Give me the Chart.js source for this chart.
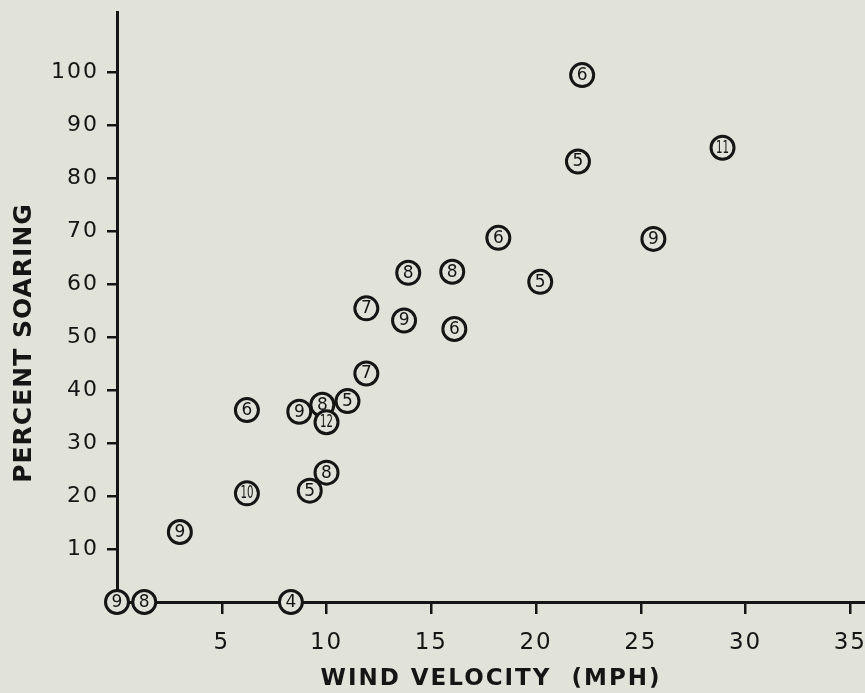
<!DOCTYPE html>
<html>
<head>
<meta charset="utf-8">
<script src="https://cdn.jsdelivr.net/npm/chart.js@4.4.1/dist/chart.umd.min.js"></script>
<style>
html, body { margin: 0; padding: 0; background: #e1e2d9; }
</style>
</head>
<body>
<canvas id="chart" width="865" height="693"></canvas>
<script>
/* Data */
var windSpeed      = [22.2, 22.0, 28.9, 18.2, 25.6, 16.0, 20.2, 16.1, 13.9, 11.9, 13.7, 11.9, 11.0, 9.8, 8.7, 10.0, 6.2, 10.0, 9.2, 6.2, 3.0, 0, 1.3, 8.3];
var percentSoaring = [99.4, 83.1, 85.7, 68.7, 68.5, 62.3, 60.4, 51.5, 62.1, 55.4, 53.1, 43.1, 37.9, 37.2, 35.9, 33.9, 36.2, 24.4, 21.0, 20.5, 13.2, 0, 0, 0];
var sampleSize     = [6, 5, 11, 6, 9, 8, 5, 6, 8, 7, 9, 7, 5, 8, 9, 12, 6, 8, 5, 10, 9, 9, 8, 4];

var xTicks = [5, 10, 15, 20, 25, 30, 35];
var yTicks = [10, 20, 30, 40, 50, 60, 70, 80, 90, 100];

var ink = '#151515';
var paper = '#e1e2d9';
var face = '"DejaVu Sans", sans-serif';

/* spaced-out lettering like the original drafting type */
var spacing = {
	id: 'spacing',
	beforeDraw: function(chart){
		chart.ctx.letterSpacing = '2px';
	}
};

/* numbers inside the circles */
var circleLabels = {
	id: 'circleLabels',
	afterDatasetsDraw: function(chart){
		var ctx = chart.ctx;
		var meta = chart.getDatasetMeta(0);
		ctx.save();
		ctx.letterSpacing = '0px';
		ctx.fillStyle = ink;
		ctx.font = '17px ' + face;
		ctx.textAlign = 'center';
		ctx.textBaseline = 'middle';
		meta.data.forEach(function(pt, i){
			var txt = String(sampleSize[i]);
			var w = ctx.measureText(txt).width;
			var s = Math.min(1, 13 / w);
			ctx.save();
			ctx.translate(pt.x, pt.y + 0.5);
			ctx.scale(s, 1);
			ctx.fillText(txt, 0, 0);
			ctx.restore();
		});
		ctx.restore();
	}
};

/* vertical axis title, sits a bit below centre in the original */
var yTitle = {
	id: 'yTitle',
	afterDraw: function(chart){
		var ctx = chart.ctx;
		var area = chart.chartArea;
		ctx.save();
		ctx.letterSpacing = '1px';
		ctx.fillStyle = ink;
		ctx.font = 'bold 25px ' + face;
		ctx.textAlign = 'center';
		ctx.textBaseline = 'middle';
		ctx.translate(24, (area.top + area.bottom) / 2 + 36);
		ctx.rotate(-Math.PI / 2);
		ctx.fillText('PERCENT SOARING', 0, 0);
		ctx.restore();
	}
};

var chartData = {
	datasets: [{
		label: 'Percent soaring',
		data: windSpeed.map(function(x, i){ return { x: x, y: percentSoaring[i] }; }),
		pointStyle: 'circle',
		pointRadius: 11.5,
		pointHoverRadius: 11.5,
		pointBorderWidth: 3,
		pointBackgroundColor: paper,
		pointBorderColor: ink,
		clip: false
	}]
};

var options = {
	responsive: false,
	animation: false,
	devicePixelRatio: 1,
	layout: {
		autoPadding: false,
		padding: { top: 12, left: 0, right: 0, bottom: 0 }
	},
	plugins: {
		legend: { display: false },
		tooltip: { enabled: false }
	},
	scales: {
		x: {
			type: 'linear',
			min: 0,
			max: 35.7,
			afterBuildTicks: function(scale){ scale.ticks = xTicks.map(function(v){ return { value: v }; }); },
			afterFit: function(scale){
				scale.height = 91;
				scale.paddingLeft = 0;
				scale.paddingRight = 0;
			},
			border: { display: true, color: ink, width: 3 },
			grid: { drawOnChartArea: false, color: ink, lineWidth: 2.5, tickLength: 12 },
			ticks: { color: ink, font: { family: face, size: 23 }, padding: 15, maxRotation: 0 },
			title: {
				display: true,
				text: 'WIND VELOCITY  (MPH)',
				color: ink,
				font: { family: face, size: 23, weight: 'bold' },
				padding: { top: 0, bottom: 0 }
			}
		},
		y: {
			type: 'linear',
			min: 0,
			max: 111.3,
			afterBuildTicks: function(scale){ scale.ticks = yTicks.map(function(v){ return { value: v }; }); },
			afterFit: function(scale){
				scale.width = 117;
				scale.paddingTop = 0;
				scale.paddingBottom = 0;
			},
			border: { display: true, color: ink, width: 3 },
			grid: { drawOnChartArea: false, color: ink, lineWidth: 2.5, tickLength: 10 },
			ticks: { color: ink, font: { family: face, size: 22 }, padding: 8 }
		}
	}
};

var scatter = new Chart(document.getElementById('chart'), {
	type: 'scatter',
	data: chartData,
	options: options,
	plugins: [spacing, circleLabels, yTitle]
});
</script>
</body>
</html>
